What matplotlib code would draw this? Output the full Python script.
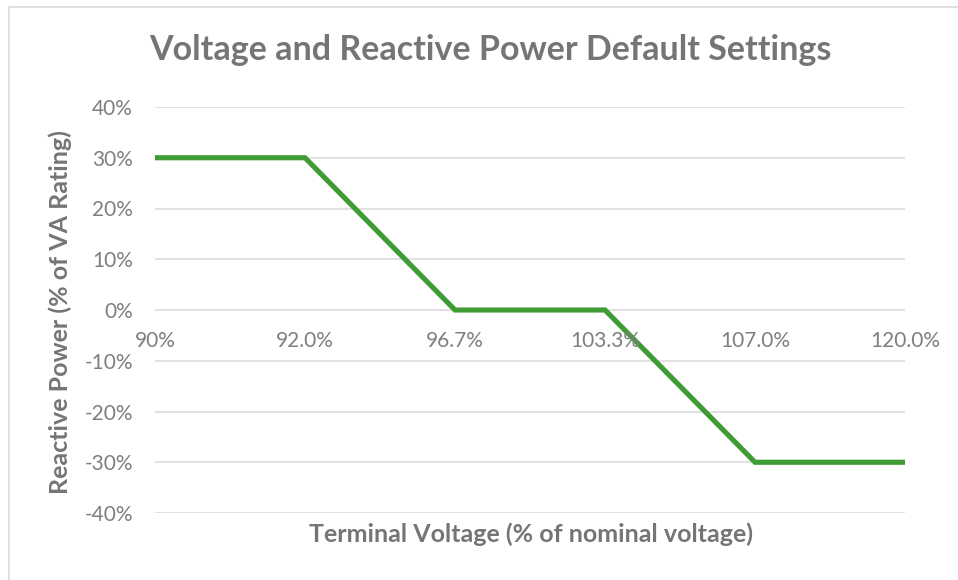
import matplotlib
matplotlib.use("Agg")
import matplotlib.pyplot as plt
from matplotlib.patches import Rectangle
from matplotlib.ticker import FixedLocator

categories = ["90%", "92.0%", "96.7%", "103.3%", "107.0%", "120.0%"]
reactive_power = [30, 30, 0, 0, -30, -30]
y_ticks = [40, 30, 20, 10, 0, -10, -20, -30, -40]
y_tick_labels = ["40%", "30%", "20%", "10%", "0%", "-10%", "-20%", "-30%", "-40%"]

title = "Voltage and Reactive Power Default Settings"
xlabel = "Terminal Voltage (% of nominal voltage)"
ylabel = "Reactive Power (% of VA Rating)"

plt.rcParams['font.family'] = ['Lato', 'DejaVu Sans']

W, H = 958, 580
fig = plt.figure(figsize=(W / 100, H / 100), dpi=100)
fig.patch.set_facecolor('white')

# chart border
fig.patches.append(Rectangle((9 / W, -0.05), 1.2, 1 - 7 / H + 0.05, transform=fig.transFigure,
                             fill=False, edgecolor='#d9d9d9', linewidth=1.2))

left, right = 155 / W, 905 / W
bottom, top = 1 - 513 / H, 1 - 107 / H
ax = fig.add_axes([left, bottom, right - left, top - bottom])

x = list(range(len(categories)))
ax.plot(x, reactive_power, color='#3f9c35', linewidth=3.7, solid_capstyle='round',
        solid_joinstyle='miter', zorder=3)

ax.set_xlim(0, len(categories) - 1)
ax.set_ylim(-40, 40)
ax.yaxis.set_major_locator(FixedLocator(y_ticks))
ax.set_yticklabels(y_tick_labels)
ax.grid(axis='y', color='#d9d9d9', linewidth=1.1, zorder=0)
ax.set_xticks([])
for s in ax.spines.values():
    s.set_visible(False)
ax.tick_params(axis='y', length=0, pad=16, labelsize=15, labelcolor='#7f7f7f')

# category labels below zero line
for xi, lab in zip(x, categories):
    ax.annotate(lab, xy=(xi, 0), xytext=(0, -21), textcoords='offset pixels',
                ha='center', va='top', fontsize=15, color='#7f7f7f')

fig.text(490 / W, 1 - 50 / H, title, ha='center', va='center', fontsize=24.5,
         fontweight='bold', color='#757575')
fig.text(531 / W, 1 - 534 / H, xlabel, ha='center', va='center', fontsize=18,
         fontweight='bold', color='#757575')
fig.text(60 / W, 1 - 312 / H, ylabel, ha='center', va='center', rotation=90,
         fontsize=18, fontweight='bold', color='#757575')

fig.savefig('out.png', dpi=100, facecolor='white')
